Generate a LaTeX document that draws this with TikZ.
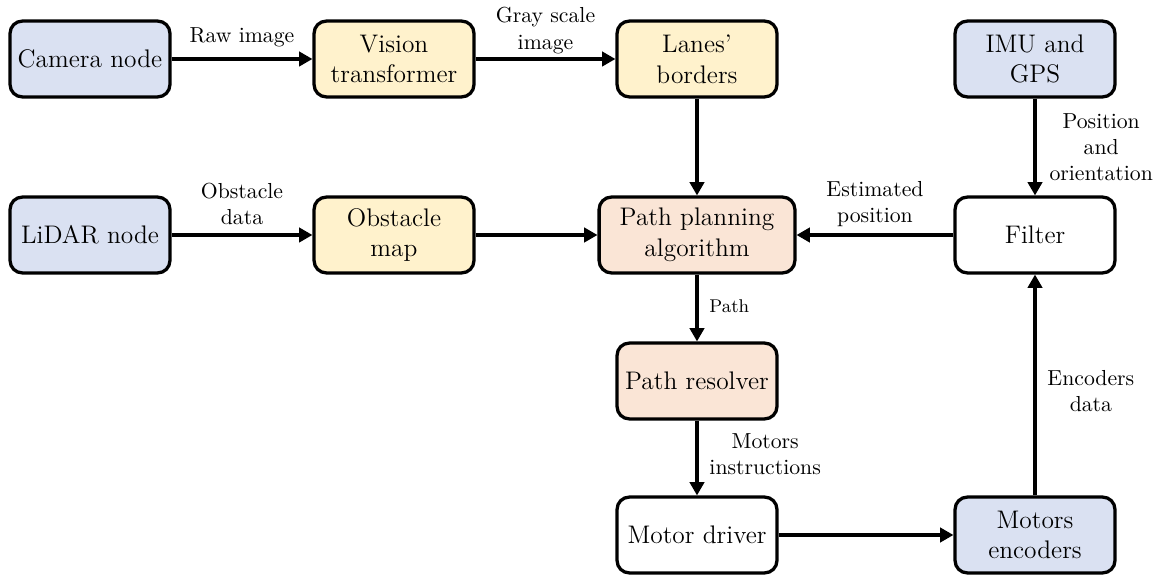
\documentclass[tikz,border=0pt]{standalone}
\usetikzlibrary{arrows.meta}
\definecolor{srcblue}{RGB}{218,225,242}
\definecolor{procyellow}{RGB}{255,242,204}
\definecolor{planpeach}{RGB}{250,229,214}
\tikzset{
  block/.style={draw=black, line width=1.6pt, rounded corners=6pt,
    minimum width=78pt, minimum height=37pt, align=center,
    font=\fontsize{12.4}{15}\selectfont, inner sep=2pt},
  srcbox/.style={block, fill=srcblue},
  procbox/.style={block, fill=procyellow},
  planbox/.style={block, fill=planpeach},
  plainbox/.style={block, fill=white},
  flow/.style={line width=1.5pt, -{Triangle[length=6.5pt,width=7pt]}},
  lbl/.style={font=\fontsize{10.6}{12.8}\selectfont, align=center},
}
\begin{document}
\begin{tikzpicture}[x=0.4878pt, y=-0.4878pt]
  \useasboundingbox (0,0) rectangle (1161,575);
  % sensors and perception
  \node[srcbox]  (cam)   at (90,59)   {Camera node};
  \node[procbox] (vit)   at (394,59)  {Vision\\transformer};
  \node[procbox] (lanes) at (697,59)  {Lanes'\\borders};
  \node[srcbox]  (imu)   at (1035,59) {IMU and\\GPS};
  \node[srcbox]  (lidar) at (90,235)  {LiDAR node};
  \node[procbox] (obst)  at (394,235) {Obstacle\\map};
  \node[planbox, minimum width=95.5pt] (plan) at (697,235) {Path planning\\algorithm};
  \node[plainbox] (filter) at (1035,235) {Filter};
  % actuation
  \node[planbox]  (resolver) at (697,381) {Path resolver};
  \node[plainbox] (driver)   at (697,535) {Motor driver};
  \node[srcbox]   (enc)      at (1035,535) {Motors\\encoders};

  % connectors
  \draw[flow] (cam) -- node[lbl, above, yshift=2pt] {Raw image} (vit);
  \draw[flow] (vit) -- node[lbl, above, yshift=-1.5pt] {Gray scale\\image} (lanes);
  \draw[flow] (lanes) -- (plan);
  \draw[flow] (lidar) -- node[lbl, above, yshift=1pt] {Obstacle\\data} (obst);
  \draw[flow] (obst) -- (plan);
  \draw[flow] (filter) -- node[lbl, above] {Estimated\\position} (plan);
  \draw[flow] (imu) -- node[lbl, right, xshift=3pt] {Position\\and\\orientation} (filter);
  \draw[flow] (plan) -- node[lbl, right, xshift=2pt, yshift=1pt, font=\small] {Path} (resolver);
  \draw[flow] (resolver) -- node[lbl, right, xshift=2pt, yshift=2pt] {Motors\\instructions} (driver);
  \draw[flow] (driver) -- (enc);
  \draw[flow] (enc) -- node[lbl, right, xshift=2pt, yshift=-3pt] {Encoders\\data} (filter);
\end{tikzpicture}
\end{document}
